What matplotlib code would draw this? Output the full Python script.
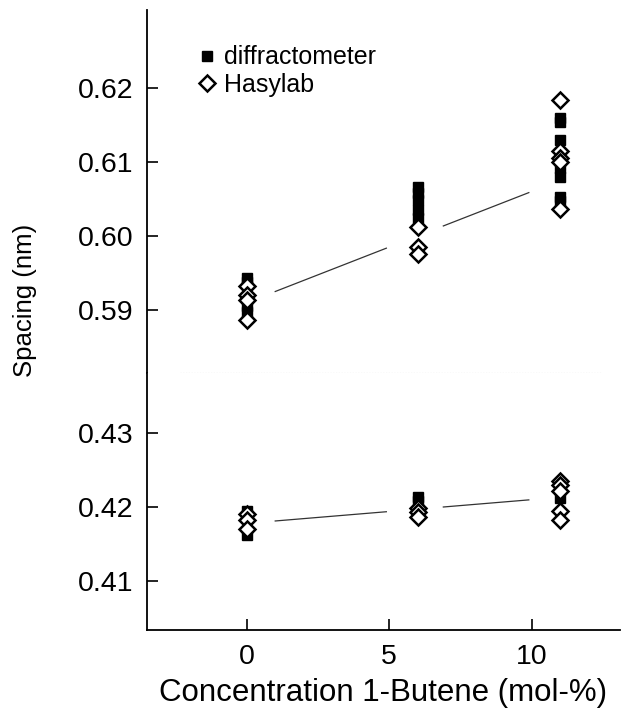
import numpy as np
import matplotlib.pyplot as plt

plt.rcParams['font.family'] = ['Liberation Sans', 'DejaVu Sans']

# concentration (mol-%) and measured spacings (nm)
x_diff = [0, 0, 0, 0, 0, 6, 6, 6, 6, 6, 11, 11, 11, 11, 11, 11, 11]
y_diff_up = [0.5943, 0.5938, 0.5918, 0.5905, 0.5898,
             0.6066, 0.6058, 0.6048, 0.6035, 0.6024,
             0.6159, 0.6154, 0.6130, 0.6092, 0.6080, 0.6052, 0.6047]
x_has = [0, 0, 0, 0, 6, 6, 6, 11, 11, 11, 11, 11]
y_has_up = [0.5933, 0.5920, 0.5914, 0.5886,
            0.6012, 0.5985, 0.5975,
            0.6184, 0.6114, 0.6105, 0.6100, 0.6036]

x_diff_lo = [0, 0, 6, 6, 11, 11]
y_diff_lo = [0.4194, 0.4162, 0.4214, 0.4208, 0.4224, 0.4212]
x_has_lo = [0, 0, 0, 6, 6, 6, 11, 11, 11, 11, 11]
y_has_lo = [0.4190, 0.4182, 0.4171, 0.4199, 0.4193, 0.4186,
            0.4235, 0.4230, 0.4222, 0.4194, 0.4183]

# linear fits (intercept, slope)
fit_up = (0.5910, 0.00150)
fit_lo = (0.4178, 0.00032)
fit_segments = [(1.0, 4.9), (6.9, 9.9)]

fig = plt.figure(figsize=(6.22, 7.14), dpi=100)
ax_up = fig.add_axes([147/622, 1-373/714, 473/622, 363/714])
ax_lo = fig.add_axes([147/622, 1-630/714, 473/622, 257/714])

sq = dict(marker='s', color='black', ms=7.5, ls='none')
dia = dict(marker='D', mfc='white', mec='black', mew=1.8, ms=8.5, ls='none')

ax_up.plot(x_diff, y_diff_up, label='diffractometer', **sq)
ax_up.plot(x_has, y_has_up, label='Hasylab', **dia)
ax_lo.plot(x_diff_lo, y_diff_lo, **sq)
ax_lo.plot(x_has_lo, y_has_lo, **dia)

for ax, (b, m) in [(ax_up, fit_up), (ax_lo, fit_lo)]:
    for x0, x1 in fit_segments:
        xs = np.array([x0, x1])
        ax.plot(xs, b + m * xs, color='#333333', lw=0.9)

ax_up.set_ylim(0.5815, 0.6305)
ax_lo.set_ylim(0.4034, 0.4381)
for ax in (ax_up, ax_lo):
    ax.set_xlim(-3.5, 13.1)
    ax.spines['top'].set_visible(False)
    ax.spines['right'].set_visible(False)
    ax.spines['left'].set_linewidth(1.3)
    ax.spines['bottom'].set_linewidth(1.3)
    ax.tick_params(direction='in', length=8, width=1.2, labelsize=20.5, pad=10)

ax_up.spines['bottom'].set_visible(False)
ax_up.set_xticks([])
ax_up.set_yticks([0.59, 0.60, 0.61, 0.62])
ax_up.set_yticklabels(['0.59', '0.60', '0.61', '0.62'])
ax_lo.set_yticks([0.41, 0.42, 0.43])
ax_lo.set_yticklabels(['0.41', '0.42', '0.43'])
ax_lo.set_xticks([0, 5, 10])
ax_lo.set_xlabel('Concentration 1-Butene (mol-%)', fontsize=22.5, labelpad=6)

# break marker between the two panels
ax_up.axhline(0.5815, xmin=0.07, xmax=0.96, color='#999999', lw=0.8,
              ls=(0, (1, 1.5)), clip_on=False)

fig.text(25/622, 1-300/714, 'Spacing (nm)', rotation=90, fontsize=18.5,
         ha='center', va='center')

ax_up.legend(loc='upper left', bbox_to_anchor=(0.08, 0.93), frameon=False,
             fontsize=18, handletextpad=0.15, labelspacing=0.15,
             borderaxespad=0, handlelength=1.0)

fig.savefig('out.png', dpi=100)
